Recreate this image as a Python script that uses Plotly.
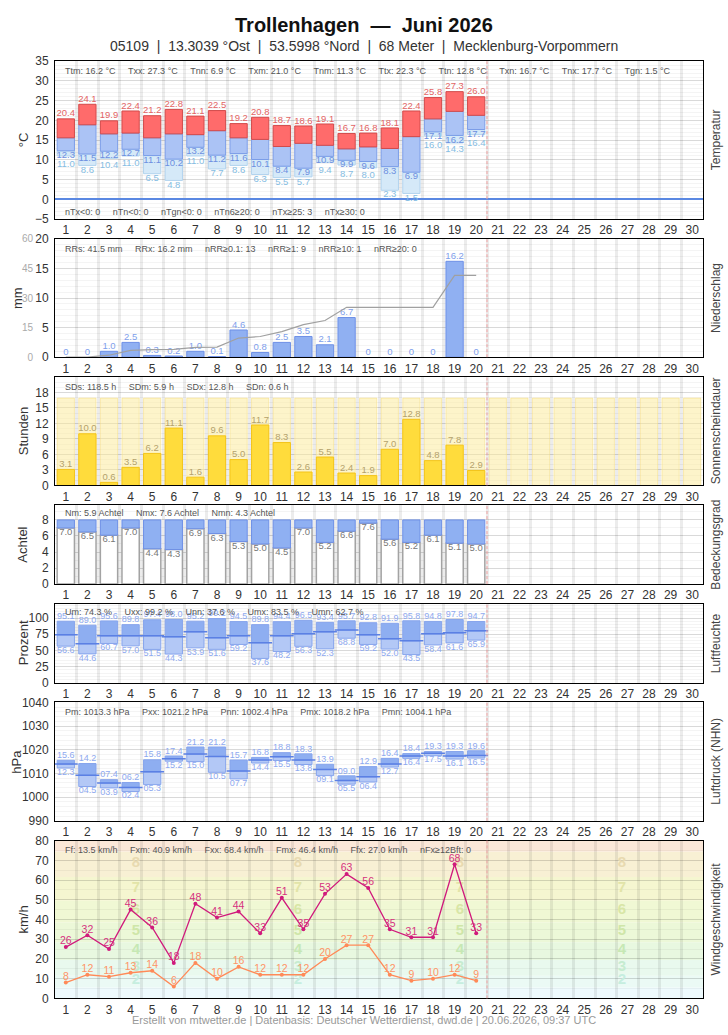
import plotly.graph_objects as go

# ---------------- data ----------------
days = list(range(1, 21))
month_days = list(range(1, 31))
day_ticks = list(range(1, 31))

temp_max = [20.4, 24.1, 19.9, 22.4, 21.2, 22.8, 21.1, 22.5, 19.2, 20.8, 18.7, 18.6, 19.1, 16.7, 16.8, 18.1, 22.4, 25.8, 27.3, 26.0]
temp_mean = [15.6, 18.9, 16.6, 16.8, 15.6, 16.6, 16.4, 17.4, 15.6, 15.2, 13.4, 14.2, 13.7, 12.8, 13.3, 12.9, 15.9, 20.4, 22.3, 21.3]
temp_min = [12.3, 11.5, 12.2, 12.7, 11.1, 10.2, 13.2, 11.2, 11.6, 10.1, 8.4, 7.9, 10.9, 9.9, 9.6, 8.3, 6.9, 17.1, 16.2, 17.7]
temp_ground = [11.0, 8.6, 10.4, 11.0, 6.5, 4.8, 11.0, 7.7, 8.6, 6.3, 5.5, 5.7, 9.4, 8.7, 8.0, 2.3, 1.5, 16.0, 14.3, 16.4]

precip = [0, 0, 1.0, 2.5, 0.3, 0.2, 1.0, 0.1, 4.6, 0.8, 2.5, 3.5, 2.1, 6.7, 0, 0, 0, 0, 16.2, 0]
precip_cum = [0, 0, 1.0, 3.5, 3.8, 4.0, 5.0, 5.1, 9.7, 10.5, 13.0, 16.5, 18.6, 25.3, 25.3, 25.3, 25.3, 25.3, 41.5, 41.5]

sunshine = [3.1, 10.0, 0.6, 3.5, 6.2, 11.1, 1.6, 9.6, 5.0, 11.7, 8.3, 2.6, 5.5, 2.4, 1.9, 7.0, 12.8, 4.8, 7.8, 2.9]
sunshine_possible = [16.9, 16.9, 16.9, 16.9, 16.9, 16.9, 16.9, 16.9, 16.9, 16.9,
                     16.9, 16.9, 16.9, 16.9, 16.9, 16.9, 16.9, 16.9, 16.9, 16.9,
                     16.9, 16.9, 16.9, 16.9, 16.9, 16.9, 16.9, 16.9, 16.9, 16.9]

cloud = [7.0, 6.5, 6.1, 7.0, 4.4, 4.3, 6.9, 6.3, 5.3, 5.0, 4.5, 7.0, 5.2, 6.6, 7.6, 5.6, 5.2, 6.1, 5.1, 5.0]
cloud_full = 8

hum_max = [95.1, 89.0, 95.6, 89.8, 97.4, 98.0, 95.2, 99.2, 94.5, 89.8, 94.4, 96.5, 93.4, 95.7, 92.8, 91.9, 95.8, 94.8, 97.8, 94.7]
hum_mean = [74.1, 60.4, 72.6, 72.6, 72.6, 71.1, 78.7, 69.6, 72.6, 61.9, 72.6, 75.6, 78.7, 81.7, 74.1, 68.0, 65.0, 75.6, 77.2, 80.2]
hum_min = [56.6, 44.6, 60.7, 57.0, 51.5, 44.3, 53.9, 51.6, 59.2, 37.6, 48.2, 56.3, 52.3, 68.8, 59.2, 52.0, 43.5, 58.4, 61.6, 65.9]

pres_max = [1015.6, 1014.2, 1007.4, 1006.2, 1015.8, 1017.4, 1021.2, 1021.2, 1015.7, 1016.8, 1018.8, 1018.3, 1013.9, 1009.0, 1012.9, 1016.4, 1018.4, 1019.3, 1019.3, 1019.6]
pres_mean = [1014.0, 1009.3, 1006.0, 1004.1, 1010.7, 1016.2, 1018.2, 1017.2, 1011.1, 1015.7, 1017.1, 1015.7, 1011.7, 1007.0, 1008.6, 1014.0, 1017.4, 1018.5, 1017.4, 1017.6]
pres_min = [1012.3, 1004.5, 1003.9, 1002.4, 1005.3, 1015.2, 1015.0, 1010.5, 1007.7, 1014.4, 1015.5, 1013.8, 1009.1, 1005.5, 1006.4, 1012.7, 1016.4, 1017.5, 1016.1, 1016.5]

gust_max = [26, 32, 25, 45, 36, 18, 48, 41, 44, 33, 51, 35, 53, 63, 56, 35, 31, 31, 68, 33]
wind_mean = [8, 12, 11, 13, 14, 6, 18, 10, 16, 12, 12, 12, 20, 27, 27, 12, 9, 10, 12, 9]

bft_levels = [2, 3, 4, 5, 6, 7, 8, 9]
bft_bounds = [0, 5.5, 11.5, 19.5, 28.5, 38.5, 49.5, 61.5, 74.5, 88.5]
bft_fill = ['#eefafd', '#ebfaf5', '#e9f9ee', '#e8f8e0', '#ecf8d8', '#f0f8d4', '#f5f6d0', '#f8f0d4', '#fbe7d8']
bft_text = ['#c6eedf', '#c6ecd0', '#c6e8b4', '#cfe6a8', '#d8e6a6', '#e2e4a8', '#e8dab0', '#eecdb8']

today_pos = 20.5

title = "Trollenhagen  —  Juni 2026"
subtitle = "05109  |  13.3039 °Ost  |  53.5998 °Nord  |  68 Meter  |  Mecklenburg-Vorpommern"
footer = "Erstellt von mtwetter.de | Datenbasis: Deutscher Wetterdienst, dwd.de | 20.06.2026, 09:37 UTC"

stats_temp_top = ["Ttm: 16.2 °C", "Txx: 27.3 °C", "Tnn: 6.9 °C", "Txm: 21.0 °C", "Tnm: 11.3 °C",
                  "Ttx: 22.3 °C", "Ttn: 12.8 °C", "Txn: 16.7 °C", "Tnx: 17.7 °C", "Tgn: 1.5 °C"]
stats_temp_bottom = ["nTx<0: 0", "nTn<0: 0", "nTgn<0: 0", "nTn6≥20: 0", "nTx≥25: 3", "nTx≥30: 0"]
stats_precip = ["RRs: 41.5 mm", "RRx: 16.2 mm", "nRR≥0.1: 13", "nRR≥1: 9", "nRR≥10: 1", "nRR≥20: 0"]
stats_sun = ["SDs: 118.5 h", "SDm: 5.9 h", "SDx: 12.8 h", "SDn: 0.6 h"]
stats_cloud = ["Nm: 5.9 Achtel", "Nmx: 7.6 Achtel", "Nmn: 4.3 Achtel"]
stats_hum = ["Um: 74.3 %", "Uxx: 99.2 %", "Unn: 37.6 %", "Umx: 83.5 %", "Umn: 62.7 %"]
stats_pres = ["Pm: 1013.3 hPa", "Pxx: 1021.2 hPa", "Pnn: 1002.4 hPa", "Pmx: 1018.2 hPa", "Pmn: 1004.1 hPa"]
stats_wind = ["Ff: 13.5 km/h", "Fxm: 40.9 km/h", "Fxx: 68.4 km/h", "Fmx: 46.4 km/h", "Ffx: 27.0 km/h", "nFx≥12Bft: 0"]

left_titles = ["°C", "mm", "Stunden", "Achtel", "Prozent", "hPa", "km/h"]
right_titles = ["Temperatur", "Niederschlag", "Sonnenscheindauer", "Bedeckungsgrad", "Luftfeuchte", "Luftdruck (NHN)", "Windgeschwindigkeit"]

# ---------------- layout helpers ----------------
W, H = 728, 1035
PX_L, PX_R = 55, 703
panels = [(55, 215), (235, 355), (375, 485), (505, 585), (605, 685), (705, 825), (845, 1005)]
left_title_x = [23, 17, 23, 23, 23, 17, 23]

FONT = "Liberation Sans, Arial, Helvetica, sans-serif"
NB = "\u00a0"
SEP = NB * 5


def px_x(x):
    return x / W


def px_y(y):
    return 1 - y / H


def axn(i, letter):
    return letter if i == 1 else f"{letter}{i}"


fig = go.Figure()


def bar(i, x, base, y, fill, line, lw=1.0, width=0.8):
    fig.add_trace(go.Bar(x=x, y=y, base=base, xaxis=axn(i, 'x'), yaxis=axn(i, 'y'), width=width,
                         marker=dict(color=fill, line=dict(color=line, width=lw)),
                         hoverinfo='skip', showlegend=False))


def txt(i, x, y, labels, pos, color, size=9.5, clip=False, yaxis=None):
    fig.add_trace(go.Scatter(x=x, y=y, text=labels, mode='text', textposition=pos,
                             textfont=dict(size=size, color=color, family=FONT),
                             xaxis=axn(i, 'x'), yaxis=yaxis or axn(i, 'y'),
                             cliponaxis=clip, hoverinfo='skip', showlegend=False))


def f1(v):
    return f"{v:.1f}"


# ---- 1 temperature ----
bar(1, days, temp_ground, [n - g for n, g in zip(temp_min, temp_ground)], '#d5e9f8', '#b2d3ee')
bar(1, days, temp_min, [m - n for m, n in zip(temp_mean, temp_min)], '#abc3f5', '#7b9de8')
bar(1, days, temp_mean, [x - m for x, m in zip(temp_max, temp_mean)], '#ff6b6b', '#d24a4a')
txt(1, days, temp_max, [f1(v) for v in temp_max], 'top center', '#e36464')
txt(1, days, temp_min, [f1(v) for v in temp_min], 'bottom center', '#6d8fe0')
txt(1, days, [min(g, n - 2.4) for g, n in zip(temp_ground, temp_min)], [f1(v) for v in temp_ground],
    'bottom center', '#86bde3')

# ---- 2 precipitation ----
bar(2, days, 0, [v if v > 0 else None for v in precip], '#90b0f2', '#6d8fe6')
fig.add_trace(go.Scatter(x=days, y=precip_cum, mode='lines', line=dict(color='#a0a0a0', width=1.2),
                         xaxis='x2', yaxis='y8', hoverinfo='skip', showlegend=False))
txt(2, days, precip, [("0" if v == 0 else f1(v)) for v in precip], 'top center', '#7f9fec')

# ---- 3 sunshine ----
bar(3, month_days, 0, sunshine_possible, 'rgba(252,234,150,0.5)', 'rgba(245,220,120,0.5)')
bar(3, days, 0, sunshine, '#ffdc3c', '#f3c419')
txt(3, days, sunshine, [f1(v) for v in sunshine], 'top center', '#b4a26c')

# ---- 4 cloud cover ----
bar(4, days, 0, cloud, '#ffffff', '#a3a3a3', lw=1.5)
bar(4, days, cloud, [cloud_full - v for v in cloud], '#8fb0f2', '#6d8fe6')
txt(4, days, cloud, [f1(v) for v in cloud], 'bottom center', '#777777')

# ---- 5 humidity ----
bar(5, days, hum_min, [m - n for m, n in zip(hum_mean, hum_min)], '#b3c8f6', '#86a4ec')
bar(5, days, hum_mean, [x - m for x, m in zip(hum_max, hum_mean)], '#8eaef1', '#86a4ec')
fig.add_trace(go.Scatter(x=days, y=hum_mean, mode='markers', xaxis='x5', yaxis='y5',
                         marker=dict(symbol='line-ew-open', size=17, color='#5b80e4',
                                     line=dict(color='#5b80e4', width=1.5)),
                         hoverinfo='skip', showlegend=False))
txt(5, days, hum_max, [f1(v) for v in hum_max], 'top center', '#8ea9f0', size=9)
txt(5, days, hum_min, [f1(v) for v in hum_min], 'bottom center', '#8ea9f0', size=9)

# ---- 6 pressure ----
bar(6, days, pres_min, [m - n for m, n in zip(pres_mean, pres_min)], '#b3c8f6', '#86a4ec')
bar(6, days, pres_mean, [x - m for x, m in zip(pres_max, pres_mean)], '#8eaef1', '#86a4ec')
fig.add_trace(go.Scatter(x=days, y=pres_mean, mode='markers', xaxis='x6', yaxis='y6',
                         marker=dict(symbol='line-ew-open', size=17, color='#5b80e4',
                                     line=dict(color='#5b80e4', width=1.5)),
                         hoverinfo='skip', showlegend=False))
txt(6, days, pres_max, [f"{v - 1000:04.1f}" for v in pres_max], 'top center', '#8ea9f0', size=9)
txt(6, days, pres_min, [f"{v - 1000:04.1f}" for v in pres_min], 'bottom center', '#8ea9f0', size=9)

# ---- 7 wind ----
bft_x = [0.5 + 30 * f for f in (0.125, 0.375, 0.625, 0.875)]
for k, lvl in enumerate(bft_levels):
    mid = (bft_bounds[lvl - 1] + bft_bounds[lvl]) / 2 + 0.5
    fig.add_trace(go.Scatter(x=bft_x, y=[mid] * len(bft_x), text=[str(lvl)] * len(bft_x), mode='text',
                             textfont=dict(size=15, color=bft_text[k], family=FONT, weight='bold'),
                             xaxis='x7', yaxis='y7', cliponaxis=True, hoverinfo='skip', showlegend=False))
fig.add_trace(go.Scatter(x=days, y=gust_max, mode='lines+markers', line=dict(color='#d01a7c', width=1.3),
                         marker=dict(size=4, color='#d01a7c'), xaxis='x7', yaxis='y7',
                         hoverinfo='skip', showlegend=False))
fig.add_trace(go.Scatter(x=days, y=wind_mean, mode='lines+markers', line=dict(color='#ff8a58', width=1.3),
                         marker=dict(size=4, color='#ff8a58'), xaxis='x7', yaxis='y7',
                         hoverinfo='skip', showlegend=False))
txt(7, days, gust_max, [str(v) for v in gust_max], 'top center', '#d6307f', size=10.5)
txt(7, days, wind_mean, [str(v) for v in wind_mean], 'top center', '#ff9466', size=10.5)

# ---------------- axes ----------------
GRID = 'rgba(0,0,0,0.11)'
MINOR = 'rgba(0,0,0,0.045)'
VGRID = 'rgba(0,0,0,0.075)'
TICKFONT = dict(size=12, color='#333333', family=FONT)

y_specs = [
    dict(range=[-5, 35], tickvals=list(range(-5, 36, 5)), minor=1),
    dict(range=[0, 20], tickvals=list(range(0, 21, 5)), minor=1),
    dict(range=[0, 21], tickvals=list(range(0, 19, 3)), minor=1),
    dict(range=[0, 9.84], tickvals=list(range(0, 9, 2)), minor=1),
    dict(range=[0, 122], tickvals=list(range(0, 101, 25)), minor=5),
    dict(range=[990, 1040], tickvals=list(range(990, 1041, 10)), minor=2),
    dict(range=[0, 80], tickvals=list(range(0, 81, 10)), minor=5),
]

layout = dict(
    width=W, height=H, autosize=False,
    margin=dict(l=0, r=0, t=0, b=0, pad=0),
    paper_bgcolor='white', plot_bgcolor='white',
    barmode='overlay', showlegend=False,
    font=dict(family=FONT, size=12, color='#333333'),
)

for i, (top, bot) in enumerate(panels, start=1):
    xa = 'xaxis' if i == 1 else f'xaxis{i}'
    ya = 'yaxis' if i == 1 else f'yaxis{i}'
    layout[xa] = dict(
        domain=[px_x(PX_L), px_x(PX_R)], anchor=axn(i, 'y'), range=[0.5, 30.5],
        tickmode='array', tickvals=day_ticks, ticktext=[str(d) for d in day_ticks],
        showgrid=False, zeroline=False, ticks='', ticklen=0, tickfont=TICKFONT,
        showline=True, linecolor='#000000', linewidth=1, mirror=True,
        minor=dict(tickmode='array', tickvals=[d + 0.5 for d in range(0, 30)], showgrid=True,
                   gridcolor=VGRID, gridwidth=2.5, ticks=''),
    )
    spec = y_specs[i - 1]
    layout[ya] = dict(
        domain=[px_y(bot), px_y(top)], anchor=axn(i, 'x'), range=spec['range'],
        tickmode='array', tickvals=spec['tickvals'], showgrid=True, gridcolor=GRID, gridwidth=1,
        zeroline=(i == 1), zerolinecolor='#5a88e2', zerolinewidth=1.5,
        ticks='', ticklen=0, tickfont=TICKFONT, ticklabelstandoff=3,
        showline=True, linecolor='#000000', linewidth=1, mirror=True,
        minor=dict(dtick=spec['minor'], showgrid=True, gridcolor=MINOR, gridwidth=1, ticks=''),
    )

layout['yaxis8'] = dict(
    overlaying='y2', anchor='free', position=px_x(33), side='left', range=[0, 60],
    tickmode='array', tickvals=[0, 15, 30, 45, 60], showgrid=False, zeroline=False,
    showline=False, ticks='', ticklen=0, ticklabelstandoff=0,
    tickfont=dict(size=10, color='#aaaaaa', family=FONT),
)

fig.update_layout(**layout)

# ---------------- shapes ----------------
shapes = []
for k in range(len(bft_fill)):
    shapes.append(dict(type='rect', xref='x7 domain', yref='y7', x0=0, x1=1,
                       y0=bft_bounds[k], y1=bft_bounds[k + 1], fillcolor=bft_fill[k],
                       line=dict(width=0), layer='below'))
for i in range(1, 8):
    shapes.append(dict(type='line', xref=axn(i, 'x'), yref=f"{axn(i, 'y')} domain",
                       x0=today_pos, x1=today_pos, y0=0, y1=1,
                       line=dict(color='#f0a0a0', width=1, dash='3px,2px'), layer='above'))
fig.update_layout(shapes=shapes)

# ---------------- annotations ----------------
ann = []
ann.append(dict(text=f"<b>{title}</b>", x=0.5, y=px_y(18), xref='paper', yref='paper',
                xanchor='center', yanchor='middle', showarrow=False,
                font=dict(family=FONT, size=20, color='#111111')))
ann.append(dict(text=subtitle, x=0.5, y=px_y(40), xref='paper', yref='paper',
                xanchor='center', yanchor='middle', showarrow=False,
                font=dict(family=FONT, size=14, color='#333333')))
ann.append(dict(text=footer, x=0.5, y=px_y(1027), xref='paper', yref='paper',
                xanchor='center', yanchor='middle', showarrow=False,
                font=dict(family=FONT, size=11, color='#999999')))

stat_rows = [
    (stats_temp_top, 65), (stats_temp_bottom, 208), (stats_precip, 245), (stats_sun, 385),
    (stats_cloud, 513), (stats_hum, 613), (stats_pres, 715), (stats_wind, 855),
]
for items, ypx in stat_rows:
    ann.append(dict(text=SEP.join(items), x=px_x(63), y=px_y(ypx), xref='paper', yref='paper',
                    xanchor='left', yanchor='middle', showarrow=False,
                    font=dict(family=FONT, size=9, color='#555555')))

for i, (top, bot) in enumerate(panels):
    mid = (top + bot) / 2
    ann.append(dict(text=left_titles[i], x=px_x(left_title_x[i]), y=px_y(mid), xref='paper', yref='paper',
                    xanchor='center', yanchor='middle', textangle=-90, showarrow=False,
                    font=dict(family=FONT, size=13, color='#333333')))
    ann.append(dict(text=right_titles[i], x=px_x(716), y=px_y(mid), xref='paper', yref='paper',
                    xanchor='center', yanchor='middle', textangle=-90, showarrow=False,
                    font=dict(family=FONT, size=12, color='#444444')))

fig.update_layout(annotations=ann)

fig.write_html("out.html", config=dict(displayModeBar=False, responsive=False))
